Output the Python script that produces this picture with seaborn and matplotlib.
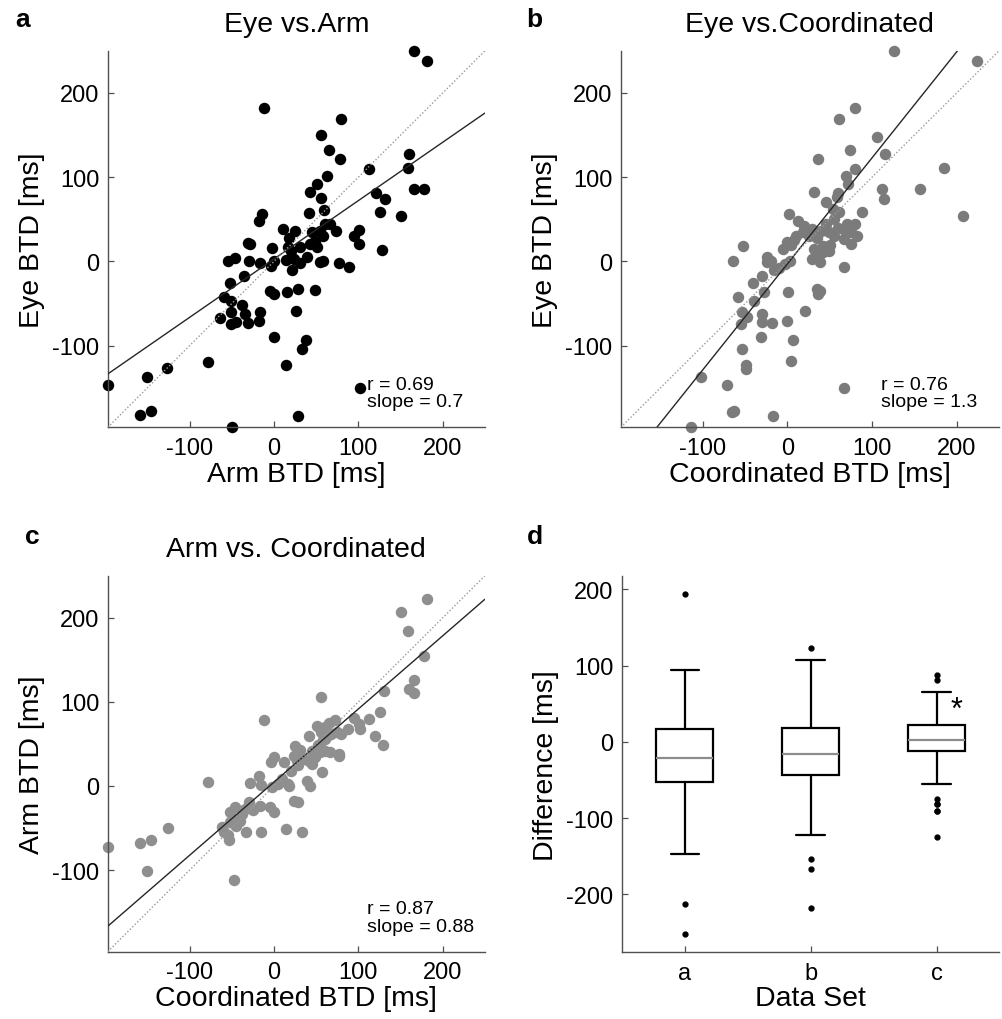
import numpy as np
import pandas as pd
import matplotlib
matplotlib.use("Agg")
import matplotlib.pyplot as plt
import seaborn as sns

# ---------------- data ----------------
# Panel a: Eye vs. Arm
A_ARM = [165.8, 180.8, -12.3, 79.5, 55.8, 64.9, 78, 160, 112.4, 158.7, 62.9, 51, 42.3, 55.8,
         165.8, 178, 120.3, 131, 126.2, 150.8, 59.8, 41.2, -13.9, -17.8, 66.9, 73.6, 101.3,
         95.4, 100.5, 128.2, 10.7, 24.5, 17.8, 16.2, 31.3, 42.3, 54.2, 58.1, 51, 49.1, 55,
         58.1, 77.6, 88.6, 39.6, 31.3, 23.3, 21.8, 13.9, 0.4, -2.4, -3.6, -16.2, -30.1, -30.5,
         -28.1, -46.7, -55, -51.8, -36, -59, -50.7, -50.7, -38, -34, -30.9, -63.7, -50.7,
         -45.5, -16.2, -18.2, -5.1, 0.4, 15.8, 28.5, 49.1, 26.1, -0.4, 38.4, 33.2, 13.9,
         -78.7, -126.2, -150.8, -197, -158.7, -145.6, -50, 28.5, 101.7, 45, 20, 60]
A_EYE = [249.8, 238, 181.8, 168.8, 150, 132.4, 121, 127.3, 110.3, 110.7, 101.6, 92.5, 82.6, 75.1,
         86.2, 86.2, 81, 73.9, 58.9, 54.5, 60.9, 56.9, 56.1, 48.2, 44.3, 36.4, 37.2,
         29.6, 20.6, 13, 38.3, 36.4, 27.3, 16.6, 16.6, 20.6, 36.4, 29.6, 16.6, 24.5, -1.2,
         0.8, -2, -7.1, 4.7, -2, 2.8, -9.9, 2, 0.8, 15.8, -5.1, -2, 0.8, 21.7,
         20.6, 4, 0.8, -26.1, -17.8, -41.9, -46.6, -60.5, -51.8, -62.5, -73.1, -67.6, -74.3,
         -71.5, -59.7, -70.4, -34.8, -38.7, -36, -32.8, -33.6, -58.5, -90.1, -92.9, -104, -122.9,
         -119.8, -126.5, -136.8, -146.2, -182.2, -177.9, -196.8, -183.8, -150.6, 35, 12, 45]

# Panel b: Eye vs. Coordinated
B_COORD = [126.5, 224.1, 79.8, 61.3, 105.9, 73.5, 115.4, 35.6, 185, 80.2, 69.2, 71.1, 31.6, 60.1,
           58.5, 111.9, 114.6, 156.1, 207.5, 87.7, 53.4, 61.3, 2.4, 13, 17.8, 29.6, 39.5, 49.4,
           55.3, 65.2, 75.1, 82.2, 75.1, 67.2, 49.4, 41.5, 31.6, 29.6, 38.7, 41.5, 0, 4, 3.2,
           -2.8, -23.7, -19.8, -15.8, -24.5, -64, -52.6, -29.6, -40.3, -58.1, -27.7, -39.5,
           -53.4, -47.4, -54.5, -29.6, -29.6, -18.6, 0.8, 20.6, 67.2, 34.4, 38.7, 35.6, 0,
           -31.6, 7.1, -53.4, 3.95, -49.4, -48.6, -101.6, -71.9, 67.2, -66, -63.2, -17, -113.4,
           10, 20, -5, 45, 8, 25, 45, -10, 35, 55, 60, 70, 50, 80, 40]
B_EYE = [249.8, 237.9, 181.8, 168.8, 147.8, 132.4, 127.3, 121, 110.7, 110.3, 101.6, 91.7, 82.6, 81.8,
         75.9, 86.2, 73.9, 86.2, 54.2, 58.9, 62.1, 58.1, 56.1, 48.2, 34.4, 38.3, 36.4, 34.4,
         30.4, 38.3, 34.4, 30.4, 20.6, 26.5, 12.6, 18.6, 14.6, 2.8, -1.2, 10.7, 23.3, 19.4, 0.8,
         -3.2, 4.7, 0.8, -9.9, -0.4, 0, 18.6, -17.8, -26.1, -41.9, -36, -46.6,
         -60.5, -66.4, -74.3, -62.5, -71.5, -73.1, -36, -58.5, -7.1, -32.8, -34.8, -38.7, -70.4,
         -90.1, -92.9, -104, -118.4, -122.9, -127.7, -136.8, -146.2, -150.6, -179, -177, -183.8, -196.8,
         30, 42, 15, 70, 26, 30, 45, -8, 28, 50, 40, 45, 20, 45, 10]

# Panel c: Arm vs. Coordinated
C_COORD = [180.8, 150.8, 158.7, 177.7, 130.2, 165.8, 159.9, 165.8, 56.2, -12.3, 126.2, 112.4, 102.5,
           119.5, 129, 94.6, 100.5, 87.9, 79.9, 72.8, 64.9, 60.9, 51, 56.2, 60.1, 41.2, 25.3, 31.3,
           23.3, 27.3, 11.5, -0.4, -3.2, 41.2, 49.1, 55, 60.9, 76.8, 77.6, 57, 45.1, 39.2, 43.1,
           16.2, 17.4, -2.4, -18.2, -15.4, -28.9, -77.6, 23.3, 28.5, -4.4, 0.4, -16.2, -30.1, -34,
           -38, -45.9, -51.8, -47.9, -51.8, -61.7, -59, -53.8, -33.2, -15.4, 14.6, 33.2, -125,
           -158.7, -145.6, -197, -150.8, -47.9, 66.9, 74.8,
           45, 52, 58, 63, 35, 28, 20, -40, -45, -55, 10, 68, 5, -25]
C_ARM = [222.9, 206.7, 184.2, 154.5, 113, 125.7, 115, 110.3, 105.9, 78.7, 87.4, 79.4, 67.6,
         59.7, 48.6, 81.4, 73.5, 67.6, 61.7, 78.7, 74.7, 69.6, 70.8, 63.6, 55.7, 59.7, 47.8, 43.1,
         36, 30, 28.9, 34, 28.1, 30, 34, 39.9, 41.9, 37.9, 36, 16.2, 26.1, 6.3, -0.4,
         2.4, -0.4, -1.6, 12.3, 1.2, 3.6, 4.3, -17.4, -18.6, -25.3, -31.2, -24.1, -18.6, -27.3,
         -33.2, -25.3, -31.2, -39.1, -43.1, -49, -54.9, -64.8, -54.2, -54.2, -51, -54.2, -49.8,
         -67.6, -64, -72.7, -101.6, -112.3, 39.9, 63.6,
         42, 49, 55, 60, 32, 25, 18, -42, -48, -58, 8, 62, 2, -28]

FIT_SLOPE = [0.693, 1.258, 0.87]
FIT_INTERCEPT = [2.9, -2.8, 4.6]
R_VALUES = ["0.69", "0.76", "0.87"]
SLOPE_VALUES = ["0.7", "1.3", "0.88"]
TITLES = ["Eye vs.Arm", "Eye vs.Coordinated", "Arm vs. Coordinated"]
XLABELS = ["Arm BTD [ms]", "Coordinated BTD [ms]", "Coordinated BTD [ms]"]
YLABELS = ["Eye BTD [ms]", "Eye BTD [ms]", "Arm BTD [ms]"]
POINT_COLORS = ["#000000", "#7b7b7b", "#8f8f8f"]
PANEL_LETTERS = ["a", "b", "c", "d"]
SETS = ["a", "b", "c"]
SCATTER_TICKS = [-100, 0, 100, 200]
BOX_TICKS = [-200, -100, 0, 100, 200]

# differences shown in panel d
diff_a = np.array(A_EYE) - np.array(A_ARM)
diff_b = np.array(B_EYE) - np.array(B_COORD)
diff_c = np.array(C_COORD) - np.array(C_ARM)
box_df = pd.DataFrame({
    "set": ["a"] * len(diff_a) + ["b"] * len(diff_b) + ["c"] * len(diff_c),
    "diff": np.concatenate([diff_a, diff_b, diff_c]),
})

# ---------------- style ----------------
sns.set_style("ticks", {"xtick.direction": "in", "ytick.direction": "in"})
plt.rcParams["font.family"] = ["Liberation Sans", "DejaVu Sans"]
plt.rcParams["axes.unicode_minus"] = False
plt.rcParams["text.color"] = "black"
plt.rcParams["axes.labelcolor"] = "black"
plt.rcParams["xtick.labelcolor"] = "black"
plt.rcParams["ytick.labelcolor"] = "black"

SPINE_COLOR = "#505050"
TICK_SIZE = 17
LABEL_SIZE = 20.5

fig = plt.figure(figsize=(10.02, 10.2), dpi=100)
positions = [
    [0.1075, 0.580, 0.3765, 0.3692],
    [0.6195, 0.580, 0.3775, 0.3692],
    [0.1075, 0.066, 0.3765, 0.3686],
    [0.6205, 0.0654, 0.377, 0.3686],
]
axes = [fig.add_axes(p) for p in positions]


def style_axes(ax):
    sns.despine(ax=ax)
    for side in ("left", "bottom"):
        ax.spines[side].set_color(SPINE_COLOR)
        ax.spines[side].set_linewidth(1.0)
    ax.tick_params(axis="both", direction="in", length=4, width=0.9,
                   color=SPINE_COLOR, labelsize=TICK_SIZE, labelcolor="black")
    ax.tick_params(axis="x", pad=7)
    ax.tick_params(axis="y", pad=6)


scatter_sets = [(A_ARM, A_EYE), (B_COORD, B_EYE), (C_COORD, C_ARM)]
for i, (xs, ys) in enumerate(scatter_sets):
    ax = axes[i]
    sns.scatterplot(x=xs, y=ys, color=POINT_COLORS[i], s=68, linewidth=0,
                    ax=ax, clip_on=False, zorder=2)
    ax.axline((0, FIT_INTERCEPT[i]), slope=FIT_SLOPE[i], color="#262626",
              lw=1.0, zorder=3)
    ax.axline((0, 0), slope=1, color="#9a9a9a", lw=1.0, ls=(0, (1, 1.5)), zorder=3)
    ax.set_xlim(-197, 250)
    ax.set_ylim(-197, 250)
    ax.set_xticks(SCATTER_TICKS)
    ax.set_yticks(SCATTER_TICKS)
    style_axes(ax)
    ax.set_xlabel(XLABELS[i], fontsize=LABEL_SIZE, labelpad=1, color="black")
    ax.set_ylabel(YLABELS[i], fontsize=LABEL_SIZE, labelpad=5, color="black")
    ax.set_title(TITLES[i], fontsize=LABEL_SIZE, pad=14.5, color="black")
    ax.text(0.687, 0.045, f"r = {R_VALUES[i]}\nslope = {SLOPE_VALUES[i]}",
            transform=ax.transAxes, fontsize=14, ha="left", va="bottom",
            linespacing=1.05, color="black")

# ---------------- panel d: box plot ----------------
axd = axes[3]
sns.boxplot(data=box_df, x="set", y="diff", order=SETS, ax=axd, width=0.45,
            color="white", linecolor="black", linewidth=1.6, whis=1.5,
            saturation=1,
            medianprops={"color": "#8c8c8c", "linewidth": 1.6},
            flierprops={"marker": "o", "markersize": 3.5,
                        "markerfacecolor": "black", "markeredgecolor": "black"})
axd.set_xlim(-0.5, 2.5)
axd.set_ylim(-276, 217)
axd.set_yticks(BOX_TICKS)
style_axes(axd)
axd.set_xlabel("Data Set", fontsize=LABEL_SIZE, labelpad=1, color="black")
axd.set_ylabel("Difference [ms]", fontsize=LABEL_SIZE, labelpad=5, color="black")
axd.text(2.16, 42, "*", fontsize=22, ha="center", va="center", color="black")

# panel letters
letter_pos = [(0.015, 0.9735), (0.5256, 0.9735), (0.025, 0.467), (0.5256, 0.467)]
for letter, (lx, ly) in zip(PANEL_LETTERS, letter_pos):
    fig.text(lx, ly, letter, fontsize=19, fontweight="bold", va="baseline",
             ha="left", color="black")

fig.savefig("out.png", dpi=100)
